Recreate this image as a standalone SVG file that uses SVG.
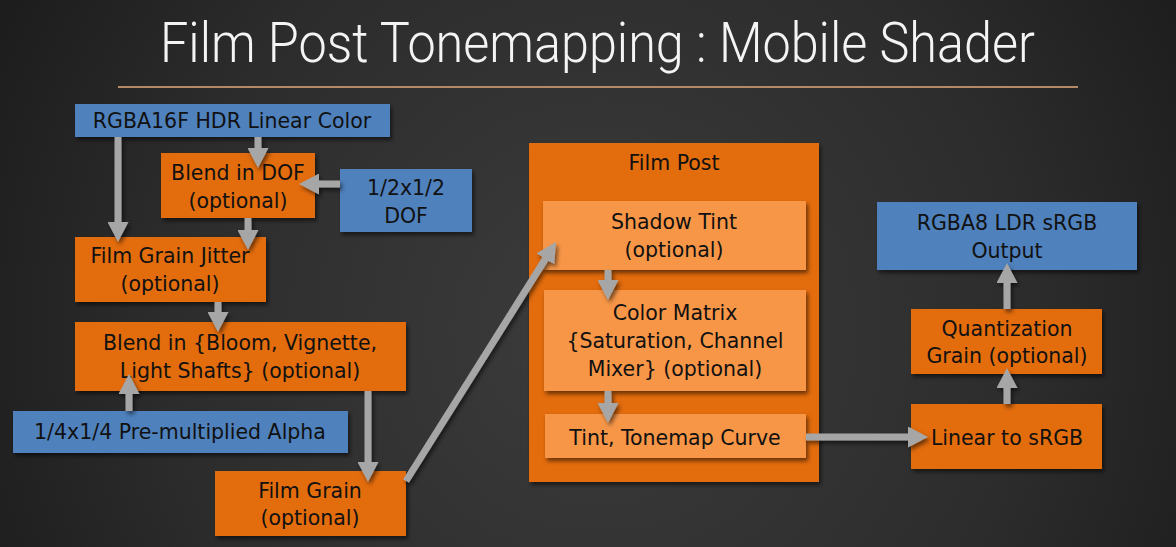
<svg xmlns="http://www.w3.org/2000/svg" width="1176" height="547" viewBox="0 0 1176 547">
  <defs>
    <radialGradient id="bg" cx="600" cy="330" r="720" gradientUnits="userSpaceOnUse">
      <stop offset="0" stop-color="#3c3c3c"/>
      <stop offset="0.6" stop-color="#2c2c2c"/>
      <stop offset="1" stop-color="#1a1a1a"/>
    </radialGradient>
    <filter id="shadow" x="-10%" y="-10%" width="130%" height="140%">
      <feDropShadow dx="2" dy="3" stdDeviation="2" flood-color="#000" flood-opacity="0.55"/>
    </filter>
    <marker id="head" markerUnits="userSpaceOnUse" markerWidth="20" markerHeight="21" refX="8" refY="10.5" orient="auto">
      <path d="M0,0 L20,10.5 L0,21 Z" fill="#a6a6a6"/>
    </marker>
    <style>
      .title { font-family: Roboto, "Liberation Sans", sans-serif; font-weight: 300; font-size: 56px; fill: #f4f4f4; }
      .lbl { font-family: "DejaVu Sans", "Liberation Sans", sans-serif; font-size: 20.5px; fill: #111111; text-anchor: middle; }
      .blue { fill: #4f81bd; }
      .orange { fill: #e36c09; }
      .light { fill: #f79646; }
      .box { filter: url(#shadow); }
      .conn line { stroke: #a6a6a6; stroke-width: 7; marker-end: url(#head); }
    </style>
  </defs>

  <!-- background -->
  <rect x="0" y="0" width="1176" height="547" fill="url(#bg)"/>

  <!-- heading -->
  <text class="title" x="160" y="62" textLength="875" lengthAdjust="spacingAndGlyphs">Film Post Tonemapping : Mobile Shader</text>
  <line x1="118" y1="87" x2="1078" y2="87" stroke="#b38a68" stroke-width="2"/>

  <!-- nodes -->
  <g id="hdr-input">
    <rect class="blue box" x="75" y="104" width="315" height="33"/>
    <text class="lbl" x="232" y="128">RGBA16F HDR Linear Color</text>
  </g>
  <g id="blend-dof">
    <rect class="orange box" x="161" y="153" width="154" height="65"/>
    <text class="lbl" x="238" y="180">Blend in DOF</text>
    <text class="lbl" x="238" y="208">(optional)</text>
  </g>
  <g id="dof-input">
    <rect class="blue box" x="340" y="169" width="132" height="63"/>
    <text class="lbl" x="406" y="195">1/2x1/2</text>
    <text class="lbl" x="406" y="223">DOF</text>
  </g>
  <g id="grain-jitter">
    <rect class="orange box" x="75" y="237" width="191" height="65"/>
    <text class="lbl" x="170" y="263">Film Grain Jitter</text>
    <text class="lbl" x="170" y="291">(optional)</text>
  </g>
  <g id="blend-bloom">
    <rect class="orange box" x="75" y="322" width="331" height="69"/>
    <text class="lbl" x="240" y="350">Blend in {Bloom, Vignette,</text>
    <text class="lbl" x="240" y="378">Light Shafts} (optional)</text>
  </g>
  <g id="alpha-input">
    <rect class="blue box" x="13" y="411" width="335" height="42"/>
    <text class="lbl" x="180" y="439">1/4x1/4 Pre-multiplied Alpha</text>
  </g>
  <g id="film-grain">
    <rect class="orange box" x="215" y="471" width="191" height="65"/>
    <text class="lbl" x="310" y="498">Film Grain</text>
    <text class="lbl" x="310" y="525">(optional)</text>
  </g>
  <g id="film-post">
    <rect class="orange box" x="529" y="143" width="290" height="339"/>
    <text class="lbl" x="674" y="170">Film Post</text>
  </g>
  <g id="shadow-tint">
    <rect class="light box" x="543" y="201" width="263" height="69"/>
    <text class="lbl" x="674" y="229">Shadow Tint</text>
    <text class="lbl" x="674" y="257">(optional)</text>
  </g>
  <g id="color-matrix">
    <rect class="light box" x="544" y="290" width="262" height="101"/>
    <text class="lbl" x="675" y="320">Color Matrix</text>
    <text class="lbl" x="675" y="348">{Saturation, Channel</text>
    <text class="lbl" x="675" y="376">Mixer} (optional)</text>
  </g>
  <g id="tonemap">
    <rect class="light box" x="545" y="414" width="261" height="44"/>
    <text class="lbl" x="675" y="445">Tint, Tonemap Curve</text>
  </g>
  <g id="ldr-output">
    <rect class="blue box" x="877" y="202" width="260" height="68"/>
    <text class="lbl" x="1007" y="230">RGBA8 LDR sRGB</text>
    <text class="lbl" x="1007" y="258">Output</text>
  </g>
  <g id="quantization">
    <rect class="orange box" x="911" y="309" width="191" height="65"/>
    <text class="lbl" x="1007" y="336">Quantization</text>
    <text class="lbl" x="1007" y="363">Grain (optional)</text>
  </g>
  <g id="linear-srgb">
    <rect class="orange box" x="911" y="404" width="191" height="65"/>
    <text class="lbl" x="1007" y="445">Linear to sRGB</text>
  </g>

  <!-- connectors -->
  <g id="connectors" class="conn" filter="url(#shadow)">
    <line x1="118" y1="137" x2="118" y2="230"/>
    <line x1="258" y1="137" x2="258" y2="156"/>
    <line x1="340" y1="184" x2="311" y2="184"/>
    <line x1="248" y1="218" x2="248" y2="238"/>
    <line x1="218" y1="302" x2="218" y2="320"/>
    <line x1="129" y1="411" x2="129" y2="386"/>
    <line x1="368" y1="391" x2="368" y2="470"/>
    <line x1="406" y1="481" x2="549.6" y2="252.2"/>
    <line x1="608" y1="270" x2="608" y2="288"/>
    <line x1="608" y1="391" x2="608" y2="411"/>
    <line x1="806" y1="437" x2="916" y2="437"/>
    <line x1="1007" y1="404" x2="1007" y2="380"/>
    <line x1="1007" y1="309" x2="1007" y2="275"/>
  </g>
</svg>
